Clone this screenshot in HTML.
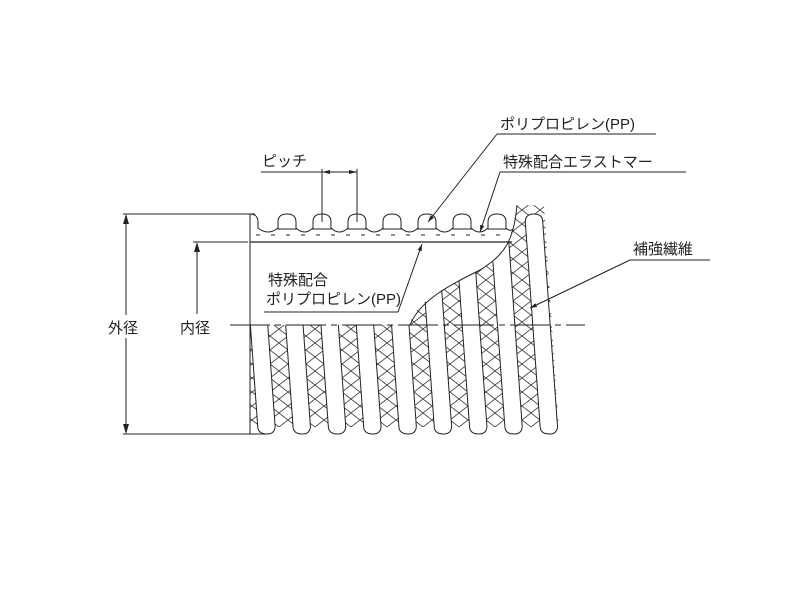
<!DOCTYPE html>
<html><head><meta charset="utf-8"><style>
html,body{margin:0;padding:0;background:#fff;}
svg{display:block;}
text{font-family:"Liberation Sans","Noto Sans CJK JP",sans-serif;font-size:15px;fill:#222;}
</style></head><body>
<svg width="800" height="600" viewBox="0 0 800 600" xmlns="http://www.w3.org/2000/svg">
<defs>
<pattern id="xh" patternUnits="userSpaceOnUse" width="18" height="14">
<path d="M0,0 L18,14 M18,0 L0,14" stroke="#333" stroke-width="0.8" fill="none"/>
</pattern>
<clipPath id="cut">
<path d="M250,325 L410,325 C412,306 440,290 470,275 C500,262 510,250 517,205 L544,205 L559.5,440 L250,440 Z"/>
</clipPath>
<marker id="ar" viewBox="0 0 10 10" refX="10" refY="5" markerWidth="7" markerHeight="7" orient="auto">
<path d="M0,2 L10,5 L0,8 Z" fill="#222"/>
</marker>
</defs>

<g clip-path="url(#cut)">
<rect x="250" y="205" width="320" height="222" fill="url(#xh)"/>
<rect x="250" y="427" width="320" height="15" fill="#fff"/>
<g fill="#fff" stroke="#222" stroke-width="1">
<path d="M242.9,222 Q242.9,214 251.6,214 Q260.3,214 260.3,222 L275.1,426 Q275.1,434 267,434 Q257.7,434 257.7,426 Z"/>
<path d="M278.2,222 Q278.2,214 286.9,214 Q295.6,214 295.6,222 L310.4,426 Q310.4,434 302.3,434 Q293,434 293,426 Z"/>
<path d="M313.5,222 Q313.5,214 322.2,214 Q330.9,214 330.9,222 L345.7,426 Q345.7,434 337.6,434 Q328.3,434 328.3,426 Z"/>
<path d="M348.8,222 Q348.8,214 357.5,214 Q366.2,214 366.2,222 L381,426 Q381,434 372.9,434 Q363.6,434 363.6,426 Z"/>
<path d="M384.1,222 Q384.1,214 392.8,214 Q401.5,214 401.5,222 L416.3,426 Q416.3,434 408.2,434 Q398.9,434 398.9,426 Z"/>
<path d="M419.4,222 Q419.4,214 428.1,214 Q436.8,214 436.8,222 L451.6,426 Q451.6,434 443.5,434 Q434.2,434 434.2,426 Z"/>
<path d="M454.7,222 Q454.7,214 463.4,214 Q472.1,214 472.1,222 L486.9,426 Q486.9,434 478.8,434 Q469.5,434 469.5,426 Z"/>
<path d="M490,222 Q490,214 498.7,214 Q507.4,214 507.4,222 L522.2,426 Q522.2,434 514.1,434 Q504.8,434 504.8,426 Z"/>
<path d="M525.3,222 Q525.3,214 534,214 Q542.7,214 542.7,222 L557.5,426 Q557.5,434 549.4,434 Q540.1,434 540.1,426 Z"/>
</g>
</g>

<!-- left end -->
<line x1="250" y1="214" x2="250" y2="434" stroke="#222" stroke-width="1"/>
<rect x="251" y="214" width="259" height="28" fill="#fff"/>
<!-- top bumps -->
<g fill="#fff" stroke="#222" stroke-width="1">
<path fill="none" d="M250,214 Q258,214 258,222 L258,228 Q268,236 278,228"/>
<path d="M278,229 L278,222 Q278,214 287,214 Q296,214 296,222 L296,229 Z"/>
<path d="M313,229 L313,222 Q313,214 322,214 Q331,214 331,222 L331,229 Z"/>
<path d="M348,229 L348,222 Q348,214 357,214 Q366,214 366,222 L366,229 Z"/>
<path d="M383,229 L383,222 Q383,214 392,214 Q401,214 401,222 L401,229 Z"/>
<path d="M418,229 L418,222 Q418,214 427,214 Q436,214 436,222 L436,229 Z"/>
<path d="M453,229 L453,222 Q453,214 462,214 Q471,214 471,222 L471,229 Z"/>
<path d="M488,229 L488,222 Q488,214 497,214 Q506,214 506,222 L506,229 Z"/>
<path fill="none" d="M296,228 Q304.5,236 313,228 M331,228 Q339.5,236 348,228 M366,228 Q374.5,236 383,228 M401,228 Q409.5,236 418,228 M436,228 Q444.5,236 453,228 M471,228 Q479.5,236 488,228 M506,228 Q510,232 513,229"/>
</g>
<line x1="256" y1="235" x2="510" y2="235" stroke="#222" stroke-width="1" stroke-dasharray="4,11"/>
<line x1="250" y1="242" x2="512" y2="242" stroke="#222" stroke-width="1.3"/>
<!-- cut curve -->
<path d="M517,205 C514,240 505,255 480,270 C450,285 420,300 410,325" fill="none" stroke="#222" stroke-width="1"/>

<!-- center line -->
<line x1="230" y1="325" x2="585" y2="325" stroke="#222" stroke-width="1" stroke-dasharray="40,5,6,5"/>

<!-- outer dim -->
<line x1="123" y1="214" x2="255" y2="214" stroke="#222"/>
<line x1="123" y1="434" x2="268" y2="434" stroke="#222"/>
<line x1="126" y1="222" x2="126" y2="315" stroke="#222"/>
<line x1="126" y1="338" x2="126" y2="426" stroke="#222"/>
<path d="M126,214 L123,224 L129,224 Z M126,434 L123,424 L129,424 Z" fill="#222"/>
<text x="108" y="333">外径</text>
<!-- inner dim -->
<line x1="193" y1="242" x2="248" y2="242" stroke="#222"/>
<line x1="197" y1="244" x2="197" y2="314" stroke="#222"/>
<path d="M197,242 L194,252 L200,252 Z" fill="#222"/>
<text x="180" y="333">内径</text>

<!-- pitch -->
<text x="262" y="166">ピッチ</text>
<line x1="261" y1="172" x2="357" y2="172" stroke="#222"/>
<line x1="322" y1="169" x2="322" y2="222" stroke="#222"/>
<line x1="357" y1="169" x2="357" y2="222" stroke="#222"/>
<path d="M322,172 L330,170 L330,174 Z M357,172 L349,170 L349,174 Z" fill="#222"/>

<!-- PP label -->
<text x="500" y="129">ポリプロピレン(PP)</text>
<line x1="497" y1="134" x2="656" y2="134" stroke="#222"/>
<line x1="497" y1="134" x2="428" y2="222" stroke="#222" marker-end="url(#ar)"/>
<!-- elastomer -->
<text x="503" y="167">特殊配合エラストマー</text>
<line x1="500" y1="172" x2="686" y2="172" stroke="#222"/>
<line x1="500" y1="172" x2="480" y2="232" stroke="#222" marker-end="url(#ar)"/>
<!-- reinforcement -->
<text x="633" y="254">補強繊維</text>
<line x1="630" y1="260" x2="710" y2="260" stroke="#222"/>
<line x1="630" y1="260" x2="530" y2="308" stroke="#222" marker-end="url(#ar)"/>
<!-- inner PP -->
<text x="268" y="285">特殊配合</text>
<text x="266" y="304">ポリプロピレン(PP)</text>
<line x1="264" y1="312" x2="398" y2="312" stroke="#222"/>
<line x1="398" y1="312" x2="422" y2="244" stroke="#222" marker-end="url(#ar)"/>
</svg>
</body></html>
